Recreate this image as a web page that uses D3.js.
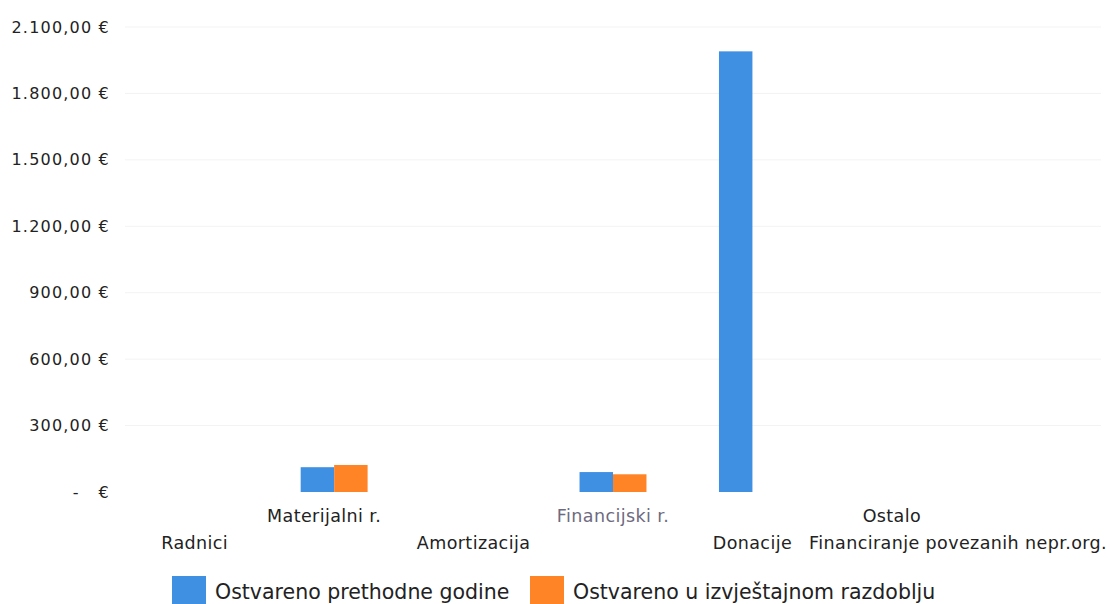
<!DOCTYPE html>
<html><head><meta charset="utf-8">
<script src="https://cdn.jsdelivr.net/npm/d3@7"></script>
<style>
html,body{margin:0;padding:0;background:#fff;}
svg text{font-family:"DejaVu Sans",Verdana,sans-serif;}
</style></head>
<body><svg id="c" width="1110" height="604"></svg>
<script>
const categories = ["Radnici","Materijalni r.","Amortizacija","Financijski r.","Donacije","Ostalo","Financiranje povezanih nepr.org."];
const seriesNames = ["Ostvareno prethodne godine","Ostvareno u izvještajnom razdoblju"];
const prevYear = [0, 112, 0, 90, 1990, 0, 0];
const currentPeriod = [0, 122, 0, 80, 0, 0, 0];
const yTicks = [0,300,600,900,1200,1500,1800,2100];
const colors = ["#3f8fe3","#ff8426"];

const svg = d3.select("#c");
const L = 125, R = 1101, T = 27, B = 492, W = 1110;
const x0 = d3.scaleBand().domain(categories).range([L,R]).paddingInner(0.52).paddingOuter(0.26);
const x1 = d3.scaleBand().domain([0,1]).range([0,x0.bandwidth()]);
const y = d3.scaleLinear().domain([0,2100]).range([B,T]);

const nf = d3.formatLocale({decimal:",",thousands:".",grouping:[3],currency:["","€"]}).format(",.2f");
const fmt = v => v===0 ? "-   €" : nf(v) + " €";

// gridlines
svg.append("g").selectAll("line").data(yTicks.filter(d=>d>0)).join("line")
  .attr("x1",L).attr("x2",R).attr("y1",d=>y(d)).attr("y2",d=>y(d))
  .attr("stroke","#f3f3f3").attr("stroke-width",1);

// y axis
const yAx = svg.append("g").attr("transform",`translate(${L},0)`)
  .call(d3.axisLeft(y).tickValues(yTicks).tickFormat(fmt).tickSize(0).tickPadding(15));
yAx.select(".domain").remove();
yAx.selectAll("text").attr("font-size",16).attr("letter-spacing",1.2).attr("fill","#222")
  .style("white-space","pre");

// bars
const data = categories.map((c,i)=>({c, vals:[prevYear[i],currentPeriod[i]]}));
svg.append("g").selectAll("g").data(data).join("g")
  .attr("transform",d=>`translate(${x0(d.c)},0)`)
  .selectAll("rect").data(d=>d.vals.map((v,k)=>({v,k}))).join("rect")
  .attr("x",d=>x1(d.k)).attr("width",x1.bandwidth())
  .attr("y",d=>y(d.v)).attr("height",d=>B-y(d.v))
  .attr("fill",d=>colors[d.k]);

// x axis (staggered labels)
const xAx = svg.append("g").attr("transform",`translate(0,${B})`)
  .call(d3.axisBottom(x0).tickSize(0).tickPadding(0));
xAx.select(".domain").remove();
xAx.selectAll(".tick text").attr("font-size",17.5).attr("letter-spacing",0.4)
  .attr("y",(d,i)=> i%2===1 ? 30 : 57)
  .attr("dy",0)
  .attr("fill",(d,i)=> i===3 ? "#6e6a80" : "#222")
  .attr("dx",(d,i)=> i===1 ? -10 : 0)
  .each(function(d){
    // keep label inside the picture
    const w = this.getComputedTextLength();
    const cx = x0(d) + x0.bandwidth()/2;
    if (cx + w/2 > W - 3) d3.select(this).attr("text-anchor","end").attr("x", W - 3 - cx);
  });

// legend
const lg = svg.append("g").attr("transform","translate(172,576)");
const items = lg.selectAll("g").data(seriesNames).join("g")
  .attr("transform",(d,i)=>`translate(${i===0?0:358},0)`);
items.append("rect").attr("width",34).attr("height",30).attr("fill",(d,i)=>colors[i]);
items.append("text").attr("x",43).attr("y",23).attr("font-size",20.5).attr("fill","#222").text(d=>d);
</script></body></html>
